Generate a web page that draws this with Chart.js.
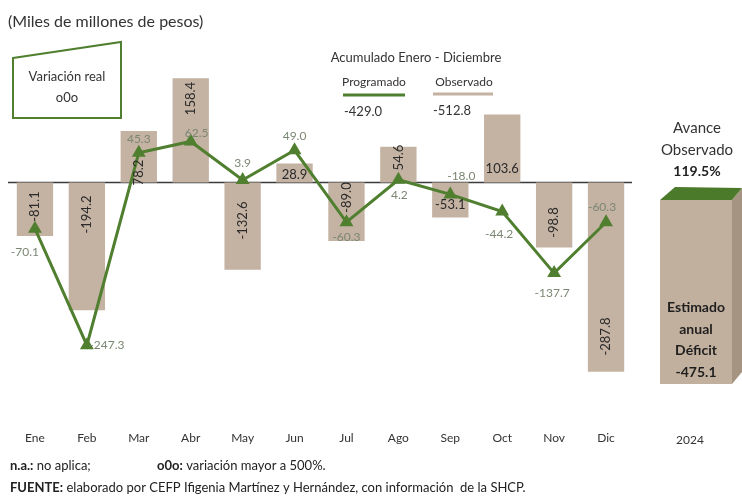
<!DOCTYPE html>
<html>
<head>
<meta charset="utf-8">
<script src="https://cdn.jsdelivr.net/npm/chart.js@4/dist/chart.umd.min.js"></script>
<style>
	html, body { margin: 0; padding: 0; background: #fff; }
	#grafico { display: block; }
</style>
</head>
<body>
<canvas id="grafico" width="742" height="498"></canvas>
<script>
var meses = ['Ene', 'Feb', 'Mar', 'Abr', 'May', 'Jun', 'Jul', 'Ago', 'Sep', 'Oct', 'Nov', 'Dic'];
var observado = [-81.1, -194.2, 78.2, 158.4, -132.6, 28.9, -89.0, 54.6, -53.1, 103.6, -98.8, -287.8];
var programado = [-70.1, -247.3, 45.3, 62.5, 3.9, 49.0, -60.3, 4.2, -18.0, -44.2, -137.7, -60.3];
var acumuladoProgramado = -429.0;
var acumuladoObservado = -512.8;
var avanceObservado = '119.5%';
var estimadoAnual = -475.1;
var anio = '2024';

// colocacion de etiquetas (pixeles)
var rotarEtiquetaBarra = [1, 1, 1, 1, 1, 0, 1, 1, 0, 0, 1, 1];
var desvioEtiquetaBarra = [24, 32, -10, -84, 38, -8, 15, -25, 22, -14, 40, 154];
var desvioEtiquetaLinea = [[-10, 23], [20, 0], [0, -14], [6, -8], [0, -17], [0, -14],
	[0, 15], [1, 15], [11, -18], [-3, 23], [-2, 20], [-4, -15]];

var VERDE = '#4f7f2f';
var CAFE = '#c4b2a3';
var FUENTE = 'Lato, "Open Sans", sans-serif';

function fmt(v) {
	return v.toFixed(1);
}

function texto(ctx, t, x, y, font, color, align) {
	ctx.font = font;
	ctx.fillStyle = color;
	ctx.textAlign = align || 'center';
	ctx.textBaseline = 'middle';
	ctx.fillText(t, x, y);
}

var pluginAnotaciones = {
	id: 'anotaciones',
	beforeDatasetsDraw: function(chart) {
		var ctx = chart.ctx;
		var area = chart.chartArea;
		var y0 = chart.scales.y.getPixelForValue(0);
		ctx.save();
		ctx.strokeStyle = '#3b3b3b';
		ctx.lineWidth = 1.5;
		ctx.beginPath();
		ctx.moveTo(area.left - 1, y0);
		ctx.lineTo(area.right, y0);
		ctx.stroke();
		ctx.restore();
	},
	afterDatasetsDraw: function(chart) {
		var ctx = chart.ctx;
		var y0 = chart.scales.y.getPixelForValue(0);
		var barras = chart.getDatasetMeta(0).data;
		var puntos = chart.getDatasetMeta(1).data;
		ctx.save();

		// etiquetas de las barras
		barras.forEach(function(b, i) {
			var y = y0 + desvioEtiquetaBarra[i];
			if (rotarEtiquetaBarra[i]) {
				ctx.save();
				ctx.translate(b.x, y);
				ctx.rotate(-Math.PI / 2);
				texto(ctx, fmt(observado[i]), 0, 0, '13px ' + FUENTE, '#2a2a2a');
				ctx.restore();
			} else {
				texto(ctx, fmt(observado[i]), b.x, y, '13px ' + FUENTE, '#2a2a2a');
			}
		});

		// etiquetas de la linea
		puntos.forEach(function(p, i) {
			var d = desvioEtiquetaLinea[i];
			texto(ctx, fmt(programado[i]), p.x + d[0], p.y + d[1], '12px ' + FUENTE, '#7b8773');
		});
		ctx.restore();
	},
	afterDraw: function(chart) {
		var ctx = chart.ctx;
		ctx.save();

		texto(ctx, '(Miles de millones de pesos)', 8, 22, '16px ' + FUENTE, '#333', 'left');

		// cuadro variacion real
		ctx.strokeStyle = VERDE;
		ctx.lineWidth = 2;
		ctx.beginPath();
		ctx.moveTo(13, 58);
		ctx.lineTo(121, 42);
		ctx.lineTo(121, 118);
		ctx.lineTo(13, 118);
		ctx.closePath();
		ctx.stroke();
		texto(ctx, 'Variación real', 67, 77, '13px ' + FUENTE, '#333');
		texto(ctx, 'o0o', 67, 98, '13px ' + FUENTE, '#333');

		// leyenda acumulado
		texto(ctx, 'Acumulado Enero - Diciembre', 416, 58, '13px ' + FUENTE, '#333');
		texto(ctx, 'Programado', 374, 82, '12px ' + FUENTE, '#333');
		texto(ctx, 'Observado', 464, 82, '12px ' + FUENTE, '#333');
		ctx.lineWidth = 3;
		ctx.strokeStyle = VERDE;
		ctx.beginPath();
		ctx.moveTo(343, 95);
		ctx.lineTo(405, 95);
		ctx.stroke();
		ctx.strokeStyle = CAFE;
		ctx.beginPath();
		ctx.moveTo(433, 94);
		ctx.lineTo(493, 94);
		ctx.stroke();
		texto(ctx, fmt(acumuladoProgramado), 363, 112, '13px ' + FUENTE, '#333');
		texto(ctx, fmt(acumuladoObservado), 452, 111, '13px ' + FUENTE, '#333');

		// avance y caja del estimado anual
		texto(ctx, 'Avance', 697, 128, '15px ' + FUENTE, '#333');
		texto(ctx, 'Observado', 697, 150, '15px ' + FUENTE, '#333');
		texto(ctx, avanceObservado, 697, 171, 'bold 14px ' + FUENTE, '#222');

		ctx.fillStyle = '#a69482';
		ctx.beginPath();
		ctx.moveTo(732, 200);
		ctx.lineTo(742, 188);
		ctx.lineTo(742, 372);
		ctx.lineTo(732, 384);
		ctx.closePath();
		ctx.fill();
		ctx.fillStyle = '#4b7a2b';
		ctx.beginPath();
		ctx.moveTo(660, 200);
		ctx.lineTo(675, 187);
		ctx.lineTo(742, 188);
		ctx.lineTo(732, 200);
		ctx.closePath();
		ctx.fill();
		ctx.fillStyle = '#c2b09f';
		ctx.fillRect(660, 200, 72, 184);
		texto(ctx, 'Estimado', 696, 307, 'bold 14px ' + FUENTE, '#1e1e1e');
		texto(ctx, 'anual', 696, 329, 'bold 14px ' + FUENTE, '#1e1e1e');
		texto(ctx, 'Déficit', 696, 350, 'bold 14px ' + FUENTE, '#1e1e1e');
		texto(ctx, fmt(estimadoAnual), 696, 372, 'bold 14px ' + FUENTE, '#1e1e1e');

		texto(ctx, anio, 690, 440, '12px ' + FUENTE, '#333');

		// notas
		ctx.textBaseline = 'middle';
		ctx.textAlign = 'left';
		ctx.fillStyle = '#222';
		ctx.font = 'bold 13px ' + FUENTE;
		ctx.fillText('n.a.:', 10, 466);
		var w = ctx.measureText('n.a.:').width;
		ctx.font = '13px ' + FUENTE;
		ctx.fillText(' no aplica;', 10 + w, 466);
		ctx.font = 'bold 13px ' + FUENTE;
		ctx.fillText('o0o:', 157, 466);
		w = ctx.measureText('o0o:').width;
		ctx.font = '13px ' + FUENTE;
		ctx.fillText(' variación mayor a 500%.', 157 + w, 466);
		ctx.font = 'bold 13px ' + FUENTE;
		ctx.fillText('FUENTE:', 10, 488);
		w = ctx.measureText('FUENTE:').width;
		ctx.font = '13px ' + FUENTE;
		ctx.fillText(' elaborado por CEFP Ifigenia Martínez y Hernández, con información  de la SHCP.', 10 + w, 488);
		ctx.restore();
	}
};

var grafico = new Chart(document.getElementById('grafico').getContext('2d'), {
	type: 'bar',
	data: {
		labels: meses,
		datasets: [{
			type: 'bar',
			label: 'Observado',
			data: observado,
			backgroundColor: CAFE,
			categoryPercentage: 1,
			barPercentage: 0.7,
			order: 2
		}, {
			type: 'line',
			label: 'Programado',
			data: programado,
			borderColor: VERDE,
			backgroundColor: VERDE,
			borderWidth: 3,
			pointStyle: 'triangle',
			pointRadius: 5,
			pointHoverRadius: 5,
			tension: 0,
			order: 1
		}]
	},
	options: {
		responsive: false,
		animation: false,
		layout: {
			padding: { left: 9, right: 110, top: 51, bottom: 45 }
		},
		plugins: {
			legend: { display: false },
			tooltip: { enabled: false }
		},
		scales: {
			x: {
				// el espacio bajo el area va como tickLength para no mover el eje en horizontal
				grid: { display: false, drawTicks: true, tickLength: 38 },
				border: { display: false },
				ticks: {
					padding: 0,
					color: '#333',
					font: { family: FUENTE, size: 12 }
				},
				afterFit: function(s) { s.height = 60; }
			},
			y: {
				display: false,
				min: -320,
				max: 200
			}
		}
	},
	plugins: [pluginAnotaciones]
});
</script>
</body>
</html>
